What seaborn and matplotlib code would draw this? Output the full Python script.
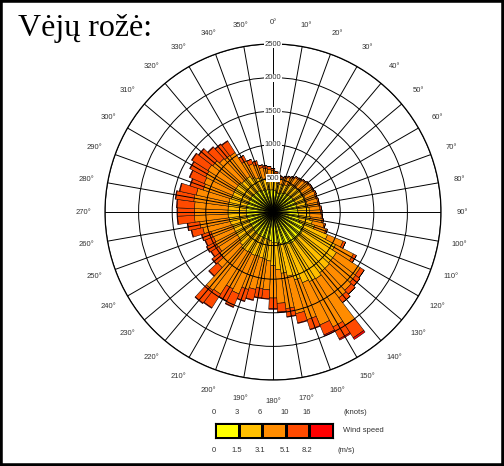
import numpy as np
import matplotlib
matplotlib.use('Agg')
import matplotlib.pyplot as plt
import seaborn as sns
from matplotlib.colors import ListedColormap
from matplotlib.patches import Rectangle

# ---------------- data ----------------
directions = list(range(0, 360, 5))  # sector centres, degrees

speed_0_1_5 = [330, 320, 300, 290, 300, 310, 320, 330, 330, 340, 350, 350,
               350, 360, 350, 360, 360, 370, 370, 380, 380, 400, 420, 480,
               500, 520, 520, 520, 520, 530, 530, 520, 500, 480, 470, 460,
               450, 430, 420, 410, 400, 400, 400, 400, 400, 390, 380, 380,
               380, 380, 380, 390, 400, 400, 400, 400, 400, 400, 390, 390,
               390, 390, 390, 380, 380, 380, 360, 350, 350, 340, 340, 330]
speed_1_5_3_1 = [150, 140, 130, 130, 130, 130, 140, 150, 150, 150, 160, 160,
                 160, 160, 160, 160, 160, 170, 170, 170, 180, 200, 230, 400,
                 550, 600, 600, 620, 620, 650, 640, 620, 560, 500, 450, 400,
                 350, 300, 290, 290, 290, 300, 290, 300, 300, 280, 260, 250,
                 250, 250, 250, 260, 260, 270, 270, 270, 270, 270, 260, 260,
                 260, 260, 260, 250, 250, 250, 220, 200, 190, 170, 160, 160]
speed_3_1_5_1 = [140, 120, 110, 100, 110, 120, 120, 130, 140, 150, 150, 160,
                 160, 160, 160, 160, 160, 160, 170, 170, 180, 180, 180, 250,
                 300, 420, 430, 440, 470, 820, 760, 680, 620, 570, 530, 500,
                 480, 430, 440, 480, 520, 620, 600, 750, 770, 450, 360, 330,
                 340, 330, 340, 420, 440, 500, 500, 500, 520, 500, 440, 460,
                 480, 500, 480, 450, 430, 420, 280, 230, 200, 170, 160, 150]
speed_5_1_8_2 = [30, 20, 20, 20, 20, 20, 20, 20, 20, 20, 20, 20,
                 20, 20, 20, 20, 20, 20, 20, 20, 20, 20, 20, 40,
                 50, 70, 80, 80, 90, 220, 200, 160, 150, 140, 120, 130,
                 160, 130, 140, 160, 180, 210, 200, 240, 240, 170, 140, 130,
                 140, 130, 140, 170, 180, 250, 250, 260, 270, 250, 200, 230,
                 260, 280, 260, 230, 210, 200, 90, 70, 60, 40, 40, 40]
speed_over_8_2 = [0, 0, 0, 0, 0, 0, 0, 0, 0, 0, 0, 0,
                  0, 0, 0, 0, 0, 0, 0, 0, 0, 0, 0, 0,
                  0, 0, 0, 0, 0, 30, 20, 20, 10, 10, 10, 10,
                  10, 10, 10, 10, 10, 10, 10, 10, 10, 10, 10, 10,
                  10, 10, 10, 10, 10, 10, 10, 10, 10, 10, 10, 10,
                  10, 10, 10, 10, 10, 10, 0, 0, 0, 0, 0, 0]

speed_series = [speed_0_1_5, speed_1_5_3_1, speed_3_1_5_1, speed_5_1_8_2, speed_over_8_2]
colors = ['#FFFF00', '#FFBF00', '#FF8C00', '#FF4A00', '#FF0000']
knots_labels = ['0', '3', '6', '10', '16']
ms_labels = ['0', '1.5', '3.1', '5.1', '8.2']
radial_ticks = [500, 1000, 1500, 2000, 2500]
angle_ticks = list(range(0, 360, 10))

# ---------------- style ----------------
sns.set_style('white')
plt.rcParams['font.family'] = ['Liberation Sans', 'DejaVu Sans']

W, H = 504, 466
fig = plt.figure(figsize=(W / 100, H / 100), dpi=100)

def fx(px):
    return px / W

def fy(py):
    return 1 - py / H

cx, cy, R = 273, 212, 168
ax = fig.add_axes([fx(cx - R), fy(cy + R), 2 * R / W, 2 * R / H], projection='polar')
ax.set_theta_zero_location('N')
ax.set_theta_direction(-1)

theta = np.deg2rad(directions)
width = np.deg2rad(5)
bottom = np.zeros(len(directions))
for vals, c in zip(speed_series, colors):
    vals = np.asarray(vals, dtype=float)
    ax.bar(theta, vals, width=width, bottom=bottom, color=c,
           edgecolor='black', linewidth=0.35, align='center', zorder=1)
    bottom += vals

ax.set_ylim(0, 2500)
ax.set_yticks(radial_ticks)
ax.set_yticklabels([])
ax.set_xticks(np.deg2rad(angle_ticks))
ax.set_xticklabels([f'{d}°' for d in angle_ticks], fontsize=5.5, color='#333333')
ax.tick_params(axis='x', pad=5)
ax.grid(True, color='black', linewidth=0.7)
ax.set_axisbelow(False)
ax.spines['polar'].set_color('black')
ax.spines['polar'].set_linewidth(0.9)

for r in radial_ticks:
    ax.text(0, r, str(r), ha='center', va='center', fontsize=5.5, color='#333333',
            bbox=dict(facecolor='white', edgecolor='none', pad=0.4), zorder=5)

# ---------------- legend ----------------
lax = fig.add_axes([fx(215), fy(438), fx(333) - fx(215), (438 - 423) / H])
sns.heatmap(np.arange(5).reshape(1, 5), cmap=ListedColormap(colors), cbar=False,
            linewidths=0.8, linecolor='black', ax=lax,
            xticklabels=False, yticklabels=False)
for s in lax.spines.values():
    s.set_visible(True)
    s.set_color('black')
    s.set_linewidth(0.8)

kx = [214, 237, 260, 285, 307]
for x, t in zip(kx, knots_labels):
    fig.text(fx(x), fy(412), t, ha='center', va='center', fontsize=5.5, color='#333333')
fig.text(fx(343), fy(412), '(knots)', ha='left', va='center', fontsize=5.5, color='#333333')
for x, t in zip(kx, ms_labels):
    fig.text(fx(x), fy(450), t, ha='center', va='center', fontsize=5.5, color='#333333')
fig.text(fx(338), fy(450), '(m/s)', ha='left', va='center', fontsize=5.5, color='#333333')
fig.text(fx(343), fy(430), 'Wind speed', ha='left', va='center', fontsize=5.5, color='#333333')

# ---------------- title & frame ----------------
fig.text(fx(18), fy(36), 'Vėjų rožė:', ha='left', va='baseline', fontsize=23,
         family=['Liberation Serif', 'DejaVu Serif'], color='black')
fig.patches.append(Rectangle((0, 0), 1, 1, transform=fig.transFigure, fill=False,
                             edgecolor='black', linewidth=4, zorder=10))

fig.savefig('out.png', dpi=100)
